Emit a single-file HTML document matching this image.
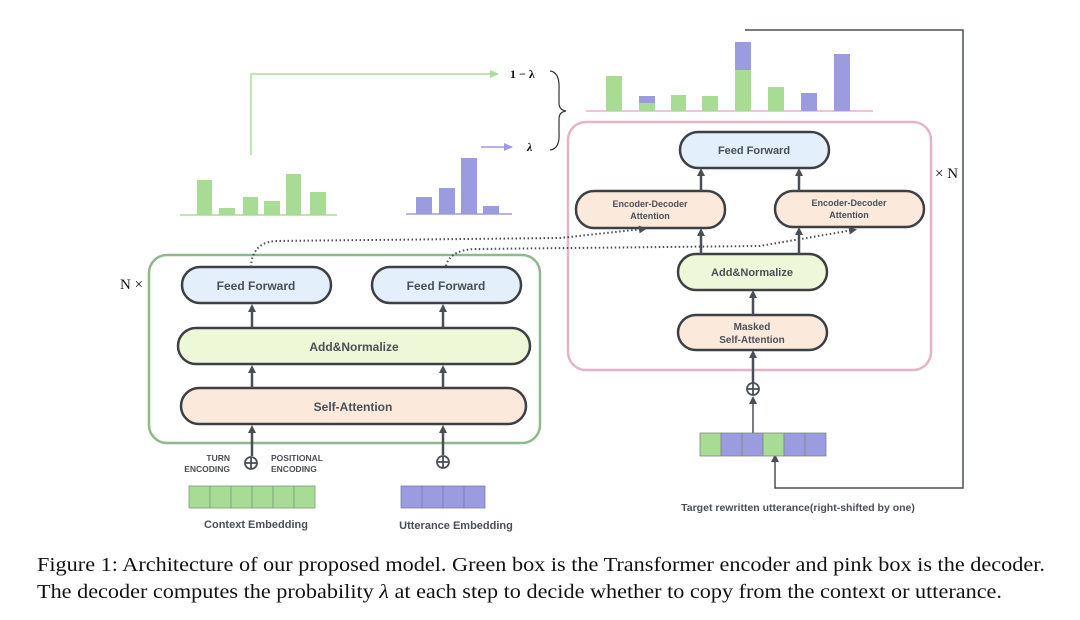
<!DOCTYPE html>
<html><head><meta charset="utf-8"><style>
html,body{margin:0;padding:0;background:#fff;}
svg{display:block;}
.b{font-family:"Liberation Sans","DejaVu Sans",sans-serif;font-weight:bold;fill:#4a4f57;}
.s{font-family:"Liberation Serif",serif;fill:#111;}
</style></head><body>
<svg width="1080" height="620" viewBox="0 0 1080 620" xmlns="http://www.w3.org/2000/svg">
<defs>
<marker id="ah" markerWidth="8" markerHeight="8" refX="4" refY="4" orient="auto" markerUnits="userSpaceOnUse"><path d="M0,0 L8,4 L0,8 z" fill="#4a4f57"/></marker>
<marker id="ag" markerWidth="9" markerHeight="8" refX="8" refY="4" orient="auto" markerUnits="userSpaceOnUse"><path d="M0,0 L9,4 L0,8 z" fill="#a8dc95"/></marker>
<marker id="ap" markerWidth="9" markerHeight="8" refX="8" refY="4" orient="auto" markerUnits="userSpaceOnUse"><path d="M0,0 L9,4 L0,8 z" fill="#9b9be0"/></marker>
</defs>

<!-- left green bars -->
<line x1="180" y1="215" x2="337" y2="215" stroke="#a8dc95" stroke-width="1.5"/>
<g fill="#a8dc95">
<rect x="197" y="180" width="15" height="35"/><rect x="219" y="208" width="16" height="7"/>
<rect x="243" y="197" width="15" height="18"/><rect x="264" y="201" width="16" height="14"/>
<rect x="286" y="174" width="15" height="41"/><rect x="310" y="192" width="16" height="23"/>
</g>
<polyline points="251,155 251,74 498,74" fill="none" stroke="#a8dc95" stroke-width="1.5" marker-end="url(#ag)"/>
<text x="510" y="78" class="s" font-size="12" font-weight="bold">1 − λ</text>

<!-- purple bars -->
<line x1="406" y1="214" x2="512" y2="214" stroke="#9b9be0" stroke-width="1.5"/>
<g fill="#9b9be0">
<rect x="416" y="197" width="16" height="17"/><rect x="439" y="188" width="16" height="26"/>
<rect x="461" y="158" width="16" height="56"/><rect x="483" y="206" width="16" height="8"/>
</g>
<line x1="481" y1="147" x2="512" y2="147" stroke="#9b9be0" stroke-width="1.5" marker-end="url(#ap)"/>
<text x="527" y="151" class="s" font-size="12" font-weight="bold" font-style="italic">λ</text>
<path d="M550,71 Q560,72 559,90 L559,103 Q559,110 566,111 Q559,112 559,119 L559,133 Q560,149 550,150" fill="none" stroke="#333" stroke-width="1.2"/>

<!-- top output bars -->
<line x1="586" y1="111" x2="873" y2="111" stroke="#e5b4c8" stroke-width="1.5"/>
<g fill="#a8dc95">
<rect x="606" y="76" width="16" height="35"/><rect x="639" y="103" width="16" height="8"/>
<rect x="671" y="95" width="15" height="16"/><rect x="702" y="96" width="16" height="15"/>
<rect x="735" y="70" width="16" height="41"/><rect x="768" y="87" width="16" height="24"/>
</g>
<g fill="#9b9be0">
<rect x="639" y="96" width="16" height="7"/><rect x="735" y="42" width="16" height="28"/>
<rect x="801" y="93" width="16" height="18"/><rect x="834" y="54" width="16" height="57"/>
</g>

<!-- loop line -->
<polyline points="745,30 963,30 963,488 775,488 775,458" fill="none" stroke="#4a4f57" stroke-width="1.5" marker-end="url(#ah)"/>
<text x="935" y="178" class="s" font-size="15">× N</text>

<!-- encoder -->
<rect x="149" y="255" width="391" height="188" rx="18" fill="none" stroke="#8fb88f" stroke-width="2.5"/>
<text x="120" y="289" class="s" font-size="15">N ×</text>
<rect x="182" y="267" width="149" height="36" rx="18" fill="#e3effb" stroke="#3c3f44" stroke-width="2.5"/>
<rect x="372" y="267" width="149" height="36" rx="18" fill="#e3effb" stroke="#3c3f44" stroke-width="2.5"/>
<text x="256" y="290" class="b" font-size="12" text-anchor="middle">Feed Forward</text>
<text x="446" y="290" class="b" font-size="12" text-anchor="middle">Feed Forward</text>
<rect x="178" y="328" width="352" height="36" rx="18" fill="#eef8d8" stroke="#3c3f44" stroke-width="2.5"/>
<text x="354" y="351" class="b" font-size="12" text-anchor="middle">Add&amp;Normalize</text>
<rect x="181" y="388" width="345" height="36" rx="18" fill="#fbeadc" stroke="#3c3f44" stroke-width="2.5"/>
<text x="353" y="411" class="b" font-size="12" text-anchor="middle">Self-Attention</text>
<g stroke="#4a4f57" stroke-width="2.5" marker-end="url(#ah)">
<line x1="252" y1="328" x2="252" y2="308"/><line x1="443" y1="328" x2="443" y2="308"/>
<line x1="252" y1="388" x2="252" y2="369"/><line x1="443" y1="388" x2="443" y2="369"/>
<line x1="252" y1="456" x2="252" y2="429"/><line x1="443" y1="455" x2="443" y2="429"/>
</g>
<g fill="#fff" stroke="#4a4f57" stroke-width="1.8">
<circle cx="251" cy="463" r="6"/><circle cx="443" cy="462" r="6"/><circle cx="753" cy="389" r="6"/>
</g>
<g stroke="#4a4f57" stroke-width="1.8">
<line x1="245" y1="463" x2="257" y2="463"/><line x1="251" y1="457" x2="251" y2="469"/>
<line x1="437" y1="462" x2="449" y2="462"/><line x1="443" y1="456" x2="443" y2="468"/>
<line x1="747" y1="389" x2="759" y2="389"/><line x1="753" y1="383" x2="753" y2="395"/>
</g>
<text x="230" y="461" class="b" font-size="8.5" text-anchor="end">TURN</text>
<text x="230" y="472" class="b" font-size="8.5" text-anchor="end">ENCODING</text>
<text x="271" y="461" class="b" font-size="8.5">POSITIONAL</text>
<text x="271" y="472" class="b" font-size="8.5">ENCODING</text>
<g stroke="#7a9a7a" stroke-width="0.8" fill="#a8dc95">
<rect x="189" y="486" width="21" height="22"/><rect x="210" y="486" width="21" height="22"/><rect x="231" y="486" width="21" height="22"/>
<rect x="252" y="486" width="21" height="22"/><rect x="273" y="486" width="21" height="22"/><rect x="294" y="486" width="21" height="22"/>
</g>
<g stroke="#7a7ab0" stroke-width="0.8" fill="#9b9be0">
<rect x="401" y="486" width="21" height="22"/><rect x="422" y="486" width="21" height="22"/><rect x="443" y="486" width="21" height="22"/><rect x="464" y="486" width="21" height="22"/>
</g>
<text x="256" y="528" class="b" font-size="11" text-anchor="middle">Context Embedding</text>
<text x="456" y="529" class="b" font-size="11" text-anchor="middle">Utterance Embedding</text>

<!-- decoder -->
<rect x="568" y="122" width="363" height="248" rx="18" fill="none" stroke="#e5b4c8" stroke-width="2.5"/>
<rect x="680" y="132" width="149" height="36" rx="18" fill="#e3effb" stroke="#3c3f44" stroke-width="2.5"/>
<text x="754" y="154" class="b" font-size="11" text-anchor="middle">Feed Forward</text>
<rect x="576" y="191" width="149" height="37" rx="18" fill="#fbeadc" stroke="#3c3f44" stroke-width="2.5"/>
<text x="650" y="207" class="b" font-size="9" text-anchor="middle">Encoder-Decoder</text>
<text x="650" y="219" class="b" font-size="9" text-anchor="middle">Attention</text>
<rect x="775" y="191" width="149" height="36" rx="18" fill="#fbeadc" stroke="#3c3f44" stroke-width="2.5"/>
<text x="849" y="206" class="b" font-size="9" text-anchor="middle">Encoder-Decoder</text>
<text x="849" y="218" class="b" font-size="9" text-anchor="middle">Attention</text>
<rect x="678" y="254" width="149" height="36" rx="18" fill="#eef8d8" stroke="#3c3f44" stroke-width="2.5"/>
<text x="752" y="276" class="b" font-size="11" text-anchor="middle">Add&amp;Normalize</text>
<rect x="678" y="315" width="149" height="35" rx="18" fill="#fbeadc" stroke="#3c3f44" stroke-width="2.5"/>
<text x="752" y="330" class="b" font-size="10" text-anchor="middle">Masked</text>
<text x="752" y="343" class="b" font-size="10" text-anchor="middle">Self-Attention</text>
<g stroke="#4a4f57" stroke-width="2.5" marker-end="url(#ah)">
<line x1="701" y1="191" x2="701" y2="172"/><line x1="799" y1="191" x2="799" y2="172"/>
<line x1="701" y1="254" x2="701" y2="232"/><line x1="799" y1="254" x2="799" y2="231"/>
<line x1="753" y1="315" x2="753" y2="294"/><line x1="753" y1="383" x2="753" y2="354"/>
</g>
<line x1="753" y1="433" x2="753" y2="400" stroke="#4a4f57" stroke-width="1.5" marker-end="url(#ah)"/>
<g stroke="#7a8a7a" stroke-width="0.8">
<rect x="700" y="433" width="21" height="23" fill="#a8dc95"/><rect x="721" y="433" width="21" height="23" fill="#9b9be0"/>
<rect x="742" y="433" width="21" height="23" fill="#9b9be0"/><rect x="763" y="433" width="21" height="23" fill="#a8dc95"/>
<rect x="784" y="433" width="21" height="23" fill="#9b9be0"/><rect x="805" y="433" width="21" height="23" fill="#9b9be0"/>
</g>
<text x="798" y="511" class="b" font-size="10.5" text-anchor="middle">Target rewritten utterance(right-shifted by one)</text>

<!-- dotted cross connections -->
<path d="M251,267 Q252,243 275,241 L560,238 L643,229" fill="none" stroke="#4a4f57" stroke-width="2" stroke-dasharray="1.5,2.5" marker-end="url(#ah)"/>
<path d="M446,266 Q450,250 475,249 L760,246 L853,230" fill="none" stroke="#4a4f57" stroke-width="2" stroke-dasharray="1.5,2.5" marker-end="url(#ah)"/>

<!-- caption -->
<text x="37" y="571" class="s" font-size="19.5" textLength="1008" lengthAdjust="spacingAndGlyphs">Figure 1: Architecture of our proposed model. Green box is the Transformer encoder and pink box is the decoder.</text>
<text x="37" y="598" class="s" font-size="19.5" textLength="965" lengthAdjust="spacingAndGlyphs">The decoder computes the probability <tspan font-style="italic">λ</tspan> at each step to decide whether to copy from the context or utterance.</text>
</svg>
</body></html>
